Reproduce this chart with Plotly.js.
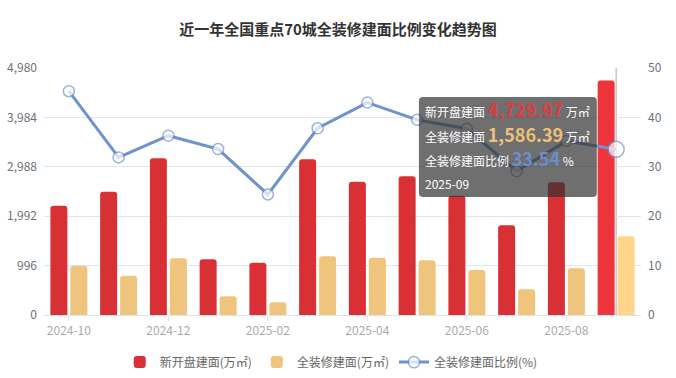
<!DOCTYPE html>
<html>
<head>
<meta charset="utf-8">
<script src="https://cdn.plot.ly/plotly-3.0.1.min.js"></script>
<style>
html,body{margin:0;padding:0;background:#fff;}
#chart{width:676px;height:378px;}
</style>
</head>
<body>
<div id="chart"></div>
<script>
const categories = ['2024-10','2024-11','2024-12','2025-01','2025-02','2025-03','2025-04','2025-05','2025-06','2025-07','2025-08','2025-09'];
const newArea = [2203, 2486, 3159, 1123, 1055, 3139, 2687, 2795, 2405, 1808, 2674, 4729.97];
const fullDecoArea = [994, 792, 1143, 377, 256, 1183, 1155, 1103, 907, 518, 941, 1586.39];
const fullDecoRatio = [45.3, 31.9, 36.3, 33.6, 24.4, 37.8, 43.0, 39.5, 37.7, 29.1, 35.2, 33.54];
const leftTicks = [0, 996, 1992, 2988, 3984, 4980];
const rightTicks = [0, 10, 20, 30, 40, 50];
const xTickLabels = ['2024-10','2024-12','2025-02','2025-04','2025-06','2025-08'];

const n = categories.length;
const hi = n - 1;
const font = '"Noto Sans CJK SC", "Noto Sans", sans-serif';

const redColors = categories.map((c,i)=> i===hi ? '#ef343b' : '#d93035');
const yelColors = categories.map((c,i)=> i===hi ? '#ffd58a' : '#efc47d');
const mSizes = categories.map((c,i)=> i===hi ? 16 : 11);

const traces = [
  {type:'bar', name:'新开盘建面(万㎡)', x:categories, y:newArea, marker:{color:redColors}, yaxis:'y', hoverinfo:'none'},
  {type:'bar', name:'全装修建面(万㎡)', x:categories, y:fullDecoArea, marker:{color:yelColors}, yaxis:'y', hoverinfo:'none'},
  {type:'scatter', mode:'lines+markers', name:'全装修建面比例(%)', x:categories, y:fullDecoRatio, yaxis:'y2',
   line:{color:'#6f93cb', width:3}, marker:{symbol:'circle', size:mSizes, color:'#ffffff', line:{color:'#6f93cb', width:1.5}}, hoverinfo:'none'}
];

// tooltip geometry (paper coords)
const tx0=0.628, tx1=0.926, ty0=0.478, ty1=0.883, rx=4/597, ry=4/247;
const tipPath = `M ${tx0+rx},${ty0} L ${tx1-rx},${ty0} Q ${tx1},${ty0} ${tx1},${ty0+ry} L ${tx1},${ty1-ry} Q ${tx1},${ty1} ${tx1-rx},${ty1} L ${tx0+rx},${ty1} Q ${tx0},${ty1} ${tx0},${ty1-ry} L ${tx0},${ty0+ry} Q ${tx0},${ty0} ${tx0+rx},${ty0} Z`;

const fmt = v => v.toLocaleString('en-US',{minimumFractionDigits:2, maximumFractionDigits:2});
const tipX = 0.6365;
const tipFont = {family:font, size:12, color:'#ffffff'};
function tipLine(y, text){
  return {xref:'paper', yref:'paper', x:tipX, y:y, xanchor:'left', yanchor:'middle', showarrow:false, align:'left', borderpad:0, text:text, font:tipFont};
}
const annotations = [
  tipLine(0.834, `新开盘建面 <b><span style="color:#e23a3e;font-size:18px">${fmt(newArea[hi])}</span></b> 万㎡`),
  tipLine(0.731, `全装修建面 <b><span style="color:#ecc07b;font-size:18px">${fmt(fullDecoArea[hi])}</span></b> 万㎡`),
  tipLine(0.634, `全装修建面比例 <b><span style="color:#6a8fcb;font-size:18px">${fullDecoRatio[hi].toFixed(2)}</span></b> %`),
  tipLine(0.534, `${categories[hi]}`)
];

const layout = {
  width:676, height:378,
  margin:{l:44, r:35, t:68, b:63, pad:0},
  paper_bgcolor:'#ffffff', plot_bgcolor:'#ffffff',
  font:{family:font, size:12, color:'#6e7079'},
  title:{text:'<b>近一年全国重点70城全装修建面比例变化趋势图</b>', x:0.5, xanchor:'center', y:0.92, yanchor:'middle', font:{family:font, size:15, color:'#333333'}},
  barmode:'group', bargap:0.196, bargroupgap:0.15, barcornerradius:3,
  showlegend:true,
  legend:{orientation:'h', x:0.49, xanchor:'center', xref:'container', y:0.042, yref:'container', yanchor:'middle', font:{family:font, size:12, color:'#666666'}, itemwidth:30, traceorder:'normal'},
  xaxis:{type:'category', automargin:false, range:[-0.5, n-0.5], categoryorder:'array', categoryarray:categories, tickmode:'array', tickvals:xTickLabels, ticktext:xTickLabels,
    showgrid:false, zeroline:false, showline:true, linecolor:'#dfe3ea', linewidth:1, ticks:'outside', ticklen:5, tickcolor:'#dfe3ea',
    tickfont:{family:font, size:12, color:'#aaaaaa'}, fixedrange:true},
  yaxis:{range:[0,4980], automargin:false, tickmode:'array', tickvals:leftTicks, tickformat:',d', showgrid:true, gridcolor:'#e0e6f1', zeroline:false,
    showline:false, ticks:'', ticklabelstandoff:6, tickfont:{family:font, size:12, color:'#6e7079'}, fixedrange:true},
  yaxis2:{range:[0,50], automargin:false, tickmode:'array', tickvals:rightTicks, overlaying:'y', side:'right', showgrid:false, zeroline:false,
    showline:false, ticks:'', ticklabelstandoff:6, tickfont:{family:font, size:12, color:'#6e7079'}, fixedrange:true},
  shapes:[
    {type:'line', xref:'x', yref:'paper', x0:categories[hi], x1:categories[hi], y0:0, y1:1, line:{color:'#aaaaaa', width:1}, layer:'below'},
    {type:'path', xref:'paper', yref:'paper', path:tipPath, fillcolor:'rgba(50,50,50,0.7)', line:{width:0}, layer:'above'}
  ],
  annotations:annotations
};

Plotly.newPlot('chart', traces, layout, {displayModeBar:false, staticPlot:true});
</script>
</body>
</html>
